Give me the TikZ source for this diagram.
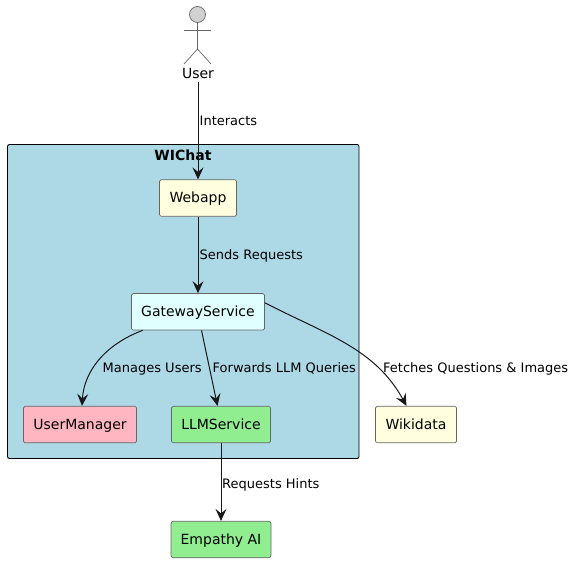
\documentclass[tikz,border=0pt]{standalone}
\usepackage{fontspec}
\setmainfont{DejaVu Sans}
\usetikzlibrary{arrows.meta,calc}
\definecolor{lblue}{HTML}{ADD8E6}
\definecolor{lyellow}{HTML}{FFFFE0}
\definecolor{lcyan}{HTML}{E0FFFF}
\definecolor{lpink}{HTML}{FFB6C1}
\definecolor{lgreen}{HTML}{90EE90}
\definecolor{ink}{HTML}{181818}
\definecolor{edge}{HTML}{666666}
\tikzset{
  comp/.style={draw=edge,line width=0.7pt,rounded corners=1.5pt,minimum height=36.5pt,inner sep=0pt,text=black,text height=10.5pt,text depth=1.5pt,font=\fontsize{14}{16}\selectfont,anchor=center},
  link/.style={draw=ink,line width=1pt,-{Stealth[length=12pt,width=11pt,inset=4.5pt]}},
  lab/.style={anchor=base west,inner sep=0pt,text=black,font=\fontsize{13}{15}\selectfont},
  actorline/.style={draw=edge,line width=0.7pt}
}
\begin{document}
\begin{tikzpicture}[x=1pt,y=-1pt]
\useasboundingbox (0,0) rectangle (575,562);
\fill[white] (0,0) rectangle (575,562);
% container
\node[draw=black,fill=lblue,line width=0.9pt,rounded corners=2pt,minimum width=351.5pt,minimum height=314pt,inner sep=0pt] (wichat) at (183.25,301.5) {};
\node[anchor=base,inner sep=0pt,font=\fontsize{14}{16}\selectfont\bfseries] (wichattitle) at (183,160) {WIChat};
% actor
\node[circle,draw=edge,fill=black!18,line width=0.7pt,minimum size=16pt,inner sep=0pt] (head) at (197.5,14.5) {};
\coordinate (hip) at (197.5,49);
\coordinate (arml) at (184,30);
\coordinate (armr) at (211,30);
\coordinate (legl) at (184,64);
\coordinate (legr) at (211,64);
\draw[actorline] (head.south) -- (hip);
\draw[actorline] (arml) -- (armr);
\draw[actorline] (legl) -- (hip) -- (legr);
\node[anchor=base,inner sep=0pt,font=\fontsize{14}{16}\selectfont] (user) at (198,78) {User};
\coordinate (userout) at (198,82);
% components
\node[comp,fill=lyellow,minimum width=77pt] (webapp) at (198,198) {Webapp};
\node[comp,fill=lcyan,minimum width=133pt] (gw) at (198,311.75) {GatewayService};
\node[comp,fill=lpink,minimum width=113pt] (um) at (80,424.5) {UserManager};
\node[comp,fill=lgreen,minimum width=99pt] (llm) at (221,424.5) {LLMService};
\node[comp,fill=lyellow,minimum width=81pt] (wiki) at (416,424.5) {Wikidata};
\node[comp,fill=lgreen,minimum width=100pt,rounded corners=2.5pt] (empathy) at (221,539.5) {Empathy AI};
% connectors
\draw[link] (userout) -- (webapp.north);
\draw[link] (webapp.south) -- (gw.north);
\draw[link] ([xshift=11.5pt]gw.south west) .. controls (104,345) and (84,372) .. ([xshift=2pt]um.north);
\draw[link] ([xshift=3.5pt]gw.south) -- ([xshift=-3.5pt]llm.north);
\draw[link] ([yshift=9pt]gw.east) .. controls (325,334) and (375,348) .. ([xshift=-9.5pt]wiki.north);
\draw[link] (llm.south) -- (empathy.north);
% labels
\node[lab] (l1) at (199.5,125) {Interacts};
\node[lab] (l2) at (199.5,259.5) {Sends Requests};
\node[lab] (l3) at (102.5,372.5) {Manages Users};
\node[lab] (l4) at (212.5,372.5) {Forwards LLM Queries};
\node[lab] (l5) at (383,372.5) {Fetches Questions \& Images};
\node[lab] (l6) at (222,488) {Requests Hints};
\end{tikzpicture}
\end{document}
